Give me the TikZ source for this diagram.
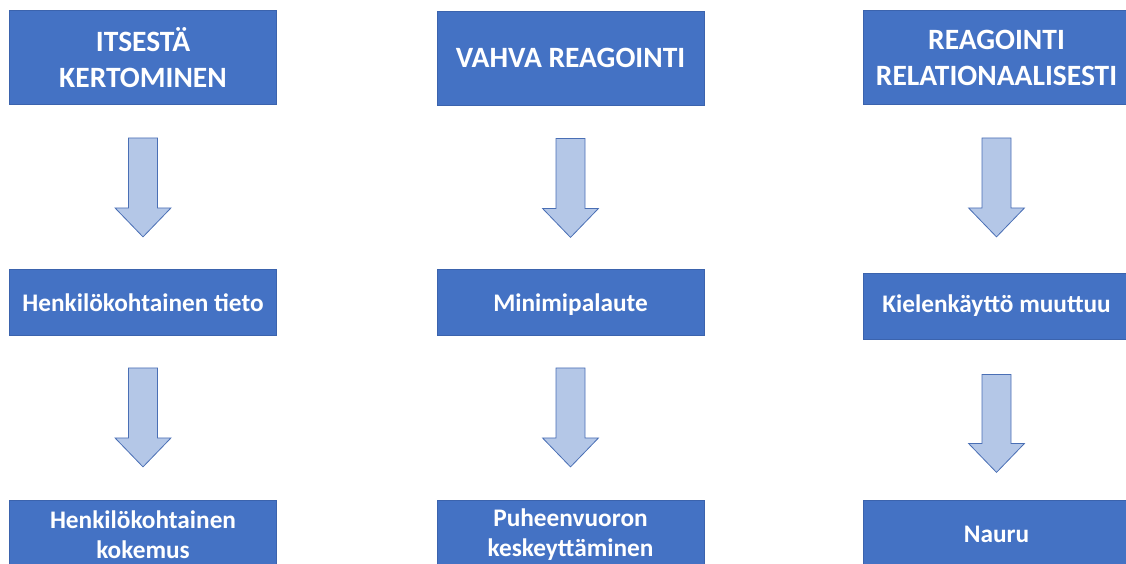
\documentclass[tikz,border=0pt]{standalone}
\usepackage{fontspec}
\setmainfont{Carlito}
\definecolor{boxblue}{HTML}{4472C4}
\definecolor{boxline}{HTML}{3B63AD}
\definecolor{arrowfill}{HTML}{B4C7E7}
\definecolor{arrowline}{HTML}{4A6FB5}
% block arrow below a node: #1 node, #2 gap, #3 total length
\newcommand\blockarrow[3]{%
  \draw[blockarrow] ([yshift=-#2pt]#1.south) ++(-14.5,0) -- ++(29,0) -- ++(0,{#3-29})
    -- ++(13.5,0) -- ++(-28,29) -- ++(-28,-29) -- ++(13.5,0) -- cycle;}
\begin{document}
\begin{tikzpicture}[x=1pt,y=-1pt,
  box/.style={draw=boxline, line width=0.8pt, fill=boxblue, text=white,
    font=\bfseries, inner sep=0pt, align=center, minimum width=267pt},
  head/.style={box, minimum height=94pt, font=\bfseries\fontsize{29.5}{36}\selectfont},
  step box/.style={box, minimum height=66pt, font=\bfseries\fontsize{25.3}{30}\selectfont},
  step text/.style={text=white, inner sep=0pt, align=center,
    font=\bfseries\fontsize{25.3}{30}\selectfont},
  blockarrow/.style={draw=arrowline, line width=0.8pt, fill=arrowfill, line join=miter}]
\useasboundingbox (0,0) rectangle (1126,563);
\begin{scope}
\clip (0,0) rectangle (1126,563);
% column headings
\node[head] (t1) at (143,57.5) {ITSESTÄ\\KERTOMINEN};
\node[head] (t2) at (570.5,58) {VAHVA REAGOINTI};
\node[head] (t3) at (996.5,57.5) {REAGOINTI\\RELATIONAALISESTI};
% middle steps
\node[step box] (m1) at (143,302.5) {Henkilökohtainen tieto};
\node[step box, text height=17pt, text depth=0pt] (m2) at (570.5,302.5) {Minimipalaute};
\node[step box] (m3) at (996.5,306) {Kielenkäyttö muuttuu};
% final steps, running past the lower edge
\node[step box, minimum height=80pt, anchor=north] (b1) at (143,500) {};
\node[step box, minimum height=80pt, anchor=north] (b2) at (570.5,500) {};
\node[step box, minimum height=80pt, anchor=north] (b3) at (996.5,500) {};
\node[step text] (b1t) at (143,534.5) {Henkilökohtainen\\kokemus};
\node[step text] (b2t) at (570.5,534.5) {Puheenvuoron\\keskeyttäminen};
\node[step text] (b3t) at (996.5,534) {Nauru};
% arrows between the steps
\blockarrow{t1}{33}{99}
\blockarrow{t2}{33}{99}
\blockarrow{t3}{33}{99}
\blockarrow{m1}{32}{99}
\blockarrow{m2}{32}{99}
\blockarrow{m3}{35}{98}
\end{scope}
\end{tikzpicture}
\end{document}
